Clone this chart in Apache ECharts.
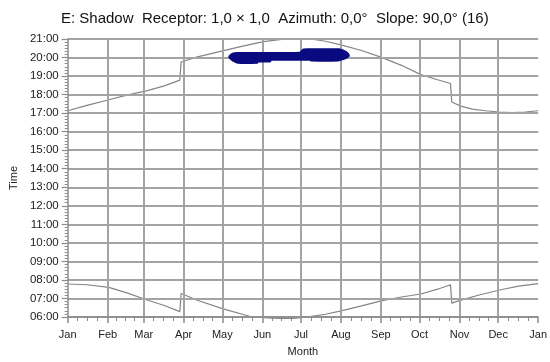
<!DOCTYPE html>
<html>
<head>
<meta charset="utf-8">
<script src="https://cdn.jsdelivr.net/npm/echarts@6/dist/echarts.min.js"></script>
<style>html,body{margin:0;padding:0;background:#fff;}#c{width:550px;height:362px;}</style>
</head>
<body>
<div id="c"></div>
<script>
// ---- data ----
var monthStarts = [0, 31, 59, 90, 120, 151, 181, 212, 243, 273, 304, 334, 365];
var monthLabels = ['Jan', 'Feb', 'Mar', 'Apr', 'May', 'Jun', 'Jul', 'Aug', 'Sep', 'Oct', 'Nov', 'Dec', 'Jan'];
var hourTicks = [6, 7, 8, 9, 10, 11, 12, 13, 14, 15, 16, 17, 18, 19, 20, 21];

var sunsetDays  = [0, 15, 32, 46, 61, 75, 87, 88, 100, 121, 135, 152, 166, 172, 180, 191, 200, 212, 228, 243, 259, 274, 287, 297, 298, 305, 314, 324, 335, 345, 355, 365];
var sunsetHours = [17.13, 17.42, 17.72, 17.97, 18.2, 18.47, 18.78, 19.76, 20.02, 20.37, 20.6, 20.86, 20.98, 21.0, 21.0, 20.98, 20.88, 20.68, 20.38, 20.02, 19.58, 19.08, 18.8, 18.6, 17.6, 17.38, 17.22, 17.13, 17.06, 17.03, 17.06, 17.13];

var sunriseDays  = [0, 15, 32, 46, 61, 75, 87, 88, 100, 120, 141, 155, 165, 175, 188, 200, 213, 228, 244, 259, 274, 287, 297, 298, 305, 320, 336, 350, 365];
var sunriseHours = [7.78, 7.74, 7.6, 7.3, 6.93, 6.62, 6.29, 7.27, 6.92, 6.45, 6.04, 5.95, 5.93, 5.93, 6.02, 6.15, 6.34, 6.6, 6.88, 7.08, 7.24, 7.5, 7.74, 6.75, 6.91, 7.2, 7.47, 7.67, 7.8];

var blobDays = [125.5, 128, 132, 147, 148, 157, 158, 180, 183, 188, 189, 210, 213, 216, 218];
var blobHigh = [20.06, 20.21, 20.24, 20.25, 20.25, 20.25, 20.25, 20.26, 20.44, 20.45, 20.45, 20.45, 20.4, 20.3, 20.15];
var blobLow  = [20.0, 19.85, 19.72, 19.72, 19.79, 19.79, 19.88, 19.88, 19.88, 19.88, 19.84, 19.84, 19.9, 19.98, 20.08];

var titleText = 'E: Shadow  Receptor: 1,0 \u00d7 1,0  Azimuth: 0,0\u00b0  Slope: 90,0\u00b0 (16)';

// ---- build ----
function zip(a, b) { return a.map(function (v, i) { return [v, b[i]]; }); }
var minorDays = [];
for (var i = 0; i < monthStarts.length - 1; i++) {
  var a = monthStarts[i], b = monthStarts[i + 1];
  for (var k = 1; k < 4; k++) minorDays.push(a + (b - a) * k / 4);
}
var FONT = '"Liberation Sans", Arial, sans-serif';
var GRID = '#a3a3a3';
var AX = '#8c8c8c';

var chart = echarts.init(document.getElementById('c'), null, {renderer: 'canvas'});
chart.setOption({
  animation: false,
  backgroundColor: '#fff',
  title: {
    text: titleText, left: 56, top: 6,
    textStyle: {fontFamily: FONT, fontSize: 15, fontWeight: 'normal', color: '#111'}
  },
  grid: {left: 67, right: 9, top: 39, bottom: 44, containLabel: false},
  xAxis: [{
    type: 'value', min: 0, max: 365, position: 'bottom', z: 5,
    name: 'Month', nameLocation: 'middle', nameGap: 29,
    nameTextStyle: {fontFamily: FONT, fontSize: 11, color: '#222'},
    axisLine: {show: true, lineStyle: {color: AX, width: 1.5}},
    axisTick: {show: true, customValues: monthStarts, length: 6, inside: false, lineStyle: {color: AX, width: 1.5}},
    axisLabel: {customValues: monthStarts, margin: 12, fontFamily: FONT, fontSize: 11, color: '#222',
      formatter: function (v) { var j = monthStarts.indexOf(v); return j >= 0 ? monthLabels[j] : ''; }},
    splitLine: {show: true, showMinLine: false, showMaxLine: false, lineStyle: {color: GRID, width: 2}}
  }, {
    type: 'value', min: 0, max: 365, position: 'bottom', z: 5,
    axisLine: {show: false},
    axisTick: {show: true, customValues: minorDays, length: 4, lineStyle: {color: AX, width: 1}},
    axisLabel: {show: false},
    splitLine: {show: false}
  }],
  yAxis: [{
    type: 'value', min: 6, max: 21, interval: 1, z: 5,
    name: 'Time', nameLocation: 'middle', nameGap: 45,
    nameTextStyle: {fontFamily: FONT, fontSize: 11, color: '#222'},
    axisLine: {show: true, lineStyle: {color: AX, width: 1.5}},
    axisTick: {show: true, length: 6, lineStyle: {color: AX, width: 1.2}},
    minorTick: {show: true, splitNumber: 6, length: 3, lineStyle: {color: AX, width: 1}},
    axisLabel: {margin: 9, fontFamily: FONT, fontSize: 11.5, color: '#222',
      formatter: function (v) { var j = hourTicks.indexOf(v); return j >= 0 ? (hourTicks[j] < 10 ? '0' : '') + hourTicks[j] + ':00' : ''; }},
    splitLine: {show: true, lineStyle: {color: GRID, width: 2}}
  }],
  series: [{
    type: 'custom', z: 10, clip: false,
    data: blobDays.map(function (d, i) { return [d, blobLow[i], blobHigh[i]]; }),
    encode: {x: 0, y: [1, 2]},
    renderItem: function (params, api) {
      if (params.dataIndex !== 0) return null;
      var pts = [];
      for (var i = 0; i < blobDays.length; i++) pts.push(api.coord([blobDays[i], blobHigh[i]]));
      for (var j = blobDays.length - 1; j >= 0; j--) pts.push(api.coord([blobDays[j], blobLow[j]]));
      return {type: 'polygon', shape: {points: pts, smooth: 0.15},
        style: {fill: '#0a0a80', stroke: '#0a0a80', lineWidth: 2, lineJoin: 'round'}};
    }
  }, {
    type: 'line', z: 1, clip: false, showSymbol: false, symbol: 'none',
    data: zip(sunsetDays, sunsetHours),
    lineStyle: {color: '#858585', width: 1.2}
  }, {
    type: 'line', z: 1, clip: false, showSymbol: false, symbol: 'none',
    data: zip(sunriseDays, sunriseHours),
    lineStyle: {color: '#858585', width: 1.2}
  }]
});
</script>
</body>
</html>
